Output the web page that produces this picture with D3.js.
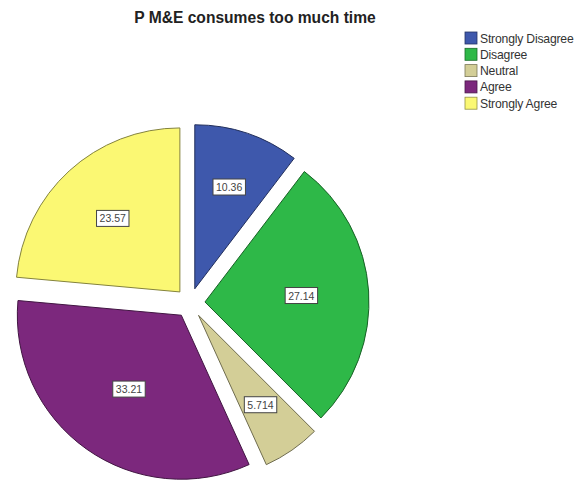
<!DOCTYPE html>
<html>
<head>
<meta charset="utf-8">
<script src="https://cdn.jsdelivr.net/npm/d3@7"></script>
<style>
  html, body { margin: 0; padding: 0; background: #fff; }
  svg { display: block; }
</style>
</head>
<body>
<svg id="chart" width="581" height="483"></svg>
<script>
const title = "P M&E consumes too much time";
const categories = ["Strongly Disagree", "Disagree", "Neutral", "Agree", "Strongly Agree"];
const values = [10.36, 27.14, 5.714, 33.21, 23.57];
const labels = ["10.36", "27.14", "5.714", "33.21", "23.57"];
const colors = ["#3E58AC", "#2EB848", "#D3CE97", "#7C287D", "#FBF873"];

const svg = d3.select("#chart");
const cx = 190, cy = 303, R = 164, explode = 15;

svg.append("text")
  .attr("x", 255).attr("y", 23)
  .attr("text-anchor", "middle")
  .attr("font-family", "Liberation Sans, Arial, sans-serif")
  .attr("font-weight", "bold")
  .attr("font-size", 15.6)
  .attr("fill", "#222")
  .text(title);

const data = categories.map((c, i) => ({ cat: c, value: values[i], label: labels[i], color: colors[i] }));
const pie = d3.pie().value(d => d.value).sort(null);
const arcs = pie(data);
const arc = d3.arc().innerRadius(0).outerRadius(R);

const g = svg.append("g").attr("transform", `translate(${cx},${cy})`);

const slices = g.selectAll("g.slice").data(arcs).enter().append("g")
  .attr("class", "slice")
  .attr("transform", d => {
    const mid = (d.startAngle + d.endAngle) / 2;
    return `translate(${explode * Math.sin(mid)},${-explode * Math.cos(mid)})`;
  });

slices.append("path")
  .attr("d", arc)
  .attr("fill", d => d.data.color)
  .attr("stroke", d => d3.color(d.data.color).darker(1.8))
  .attr("stroke-width", 1);

// labels at sector area centroid
slices.each(function(d) {
  const mid = (d.startAngle + d.endAngle) / 2;
  const half = (d.endAngle - d.startAngle) / 2;
  const dist = 2 * R * Math.sin(half) / (3 * half);
  const x = dist * Math.sin(mid), y = -dist * Math.cos(mid);
  const sel = d3.select(this);
  const t = sel.append("text")
    .attr("x", x).attr("y", y)
    .attr("text-anchor", "middle")
    .attr("dominant-baseline", "central")
    .attr("font-family", "Liberation Sans, Arial, sans-serif")
    .attr("font-size", 10.5)
    .attr("fill", "#444")
    .text(d.data.label);
  const bb = t.node().getBBox();
  sel.insert("rect", "text")
    .attr("x", bb.x - 3).attr("y", bb.y - 2)
    .attr("width", bb.width + 6).attr("height", bb.height + 4)
    .attr("fill", "#fff")
    .attr("stroke", "#444")
    .attr("stroke-width", 1);
});

// legend
const legend = svg.append("g").attr("transform", "translate(465,32)");
const rowH = 16.3;
const items = legend.selectAll("g").data(data).enter().append("g")
  .attr("transform", (d, i) => `translate(0,${i * rowH})`);
items.append("rect")
  .attr("x", 0).attr("y", 0).attr("width", 12).attr("height", 12)
  .attr("fill", d => d.color)
  .attr("stroke", d => d3.color(d.color).darker(1.5))
  .attr("stroke-width", 0.8);
items.append("text")
  .attr("x", 15).attr("y", 6.5)
  .attr("dominant-baseline", "central")
  .attr("font-family", "Liberation Sans, Arial, sans-serif")
  .attr("font-size", 12.2)
  .attr("letter-spacing", -0.2)
  .attr("fill", "#333")
  .text(d => d.cat);
</script>
</body>
</html>
